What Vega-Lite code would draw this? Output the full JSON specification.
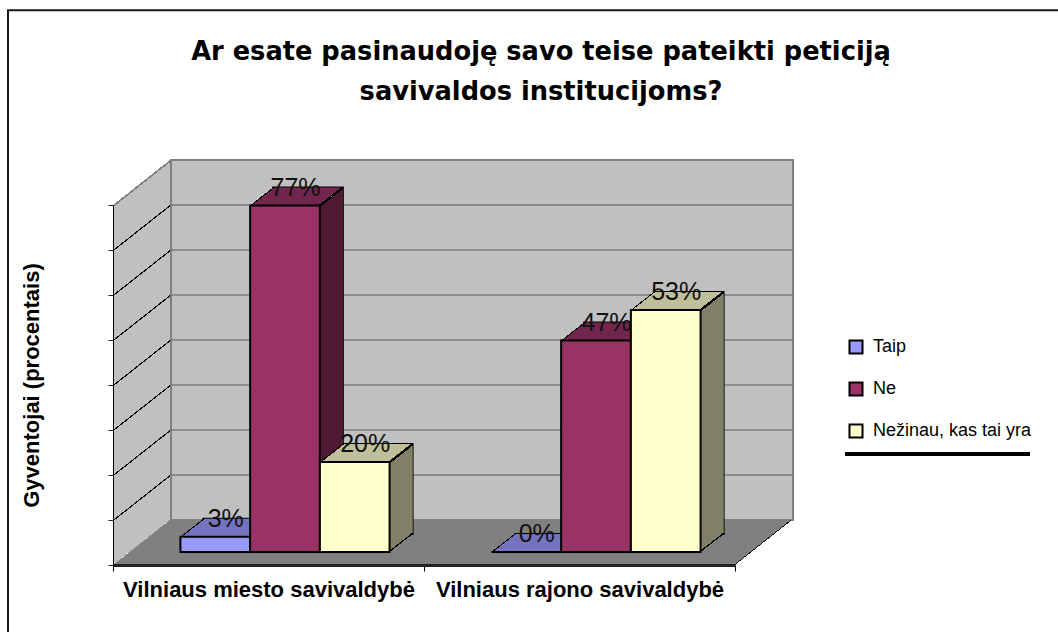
{"$schema":"https://vega.github.io/schema/vega-lite/v6.json","width":622,"height":360,"autosize":{"type":"none"},"padding":{"left":113,"top":205,"right":323,"bottom":67},"background":"white","config":{"view":{"stroke":null},"font":"Liberation Sans"},
"title":{"text":["Ar esate pasinaudoję savo teise pateikti peticiją","savivaldos institucijoms?"],"font":"DejaVu Sans","fontSize":25.7,"fontWeight":"bold","lineHeight":40,"color":"black","anchor":"middle","frame":"group","dx":117,"dy":101},
"datasets":{"answers":[
{"group":"Vilniaus miesto savivaldybė","answer":"Taip","value":3.4,"label":"3%"},
{"group":"Vilniaus miesto savivaldybė","answer":"Ne","value":77,"label":"77%"},
{"group":"Vilniaus miesto savivaldybė","answer":"Nežinau, kas tai yra","value":20,"label":"20%"},
{"group":"Vilniaus rajono savivaldybė","answer":"Taip","value":0,"label":"0%"},
{"group":"Vilniaus rajono savivaldybė","answer":"Ne","value":47,"label":"47%"},
{"group":"Vilniaus rajono savivaldybė","answer":"Nežinau, kas tai yra","value":53.8,"label":"53%"}],
"levels":[{"level":0},{"level":10},{"level":20},{"level":30},{"level":40},{"level":50},{"level":60},{"level":70},{"level":80}],
"frame":[{"part":"frame"}]},
"data":{"name":"answers"},
"layer":[
{"data":{"name":"frame"},"mark":{"type":"bar","width":1300,"xOffset":389.5,"yOffset":0,"y2Offset":100,"fill":"transparent","stroke":"#1a1a1a","strokeWidth":2},"encoding":{"x":{"datum":"Vilniaus miesto savivaldybė","type":"nominal"},"y":{"datum":123.3,"type":"quantitative"},"y2":{"datum":0}}},
{"data":{"name":"frame"},"mark":{"type":"bar","width":680,"xOffset":184.5,"fill":{"gradient":"linear","x1":0,"y1":0,"x2":0.4807,"y2":0.3626,"stops":[{"offset":0,"color":"rgba(192,192,192,0)"},{"offset":0.1111,"color":"rgba(192,192,192,0)"},{"offset":0.1111,"color":"#808080"},{"offset":0.1165,"color":"#808080"},{"offset":0.1165,"color":"#c0c0c0"},{"offset":0.2222,"color":"#c0c0c0"},{"offset":0.2222,"color":"#000"},{"offset":0.2257,"color":"#000"},{"offset":0.2257,"color":"#c0c0c0"},{"offset":0.3333,"color":"#c0c0c0"},{"offset":0.3333,"color":"#000"},{"offset":0.3368,"color":"#000"},{"offset":0.3368,"color":"#c0c0c0"},{"offset":0.4444,"color":"#c0c0c0"},{"offset":0.4444,"color":"#000"},{"offset":0.4479,"color":"#000"},{"offset":0.4479,"color":"#c0c0c0"},{"offset":0.5556,"color":"#c0c0c0"},{"offset":0.5556,"color":"#000"},{"offset":0.5591,"color":"#000"},{"offset":0.5591,"color":"#c0c0c0"},{"offset":0.6667,"color":"#c0c0c0"},{"offset":0.6667,"color":"#000"},{"offset":0.6702,"color":"#000"},{"offset":0.6702,"color":"#c0c0c0"},{"offset":0.7778,"color":"#c0c0c0"},{"offset":0.7778,"color":"#000"},{"offset":0.7813,"color":"#000"},{"offset":0.7813,"color":"#c0c0c0"},{"offset":0.8889,"color":"#c0c0c0"},{"offset":0.8889,"color":"#000"},{"offset":0.8924,"color":"#000"},{"offset":0.8924,"color":"#c0c0c0"},{"offset":1,"color":"#c0c0c0"},{"offset":1,"color":"rgba(192,192,192,0)"}]}},"encoding":{"x":{"datum":"Vilniaus miesto savivaldybė","type":"nominal"},"y":{"datum":90,"type":"quantitative"},"y2":{"datum":0}}},
{"data":{"name":"frame"},"mark":{"type":"bar","width":622,"xOffset":213.5,"yOffset":-45,"y2Offset":-45,"fill":"#c0c0c0","stroke":"#808080","strokeWidth":2},"encoding":{"x":{"datum":"Vilniaus miesto savivaldybė","type":"nominal"},"y":{"datum":80,"type":"quantitative"},"y2":{"datum":0}}},
{"data":{"name":"levels"},"transform":[{"filter":"datum.level>0 && datum.level<80"}],"mark":{"type":"bar","width":622,"xOffset":213.5,"yOffset":-45,"y2Offset":-45,"stroke":"#5a5a5a","strokeWidth":1.2},"encoding":{"x":{"datum":"Vilniaus miesto savivaldybė","type":"nominal"},"y":{"field":"level","type":"quantitative"},"y2":{"field":"level"}}},
{"data":{"name":"frame"},"mark":{"type":"bar","width":680,"xOffset":184.5,"fill":{"gradient":"linear","x1":0,"y1":0,"x2":0.993,"y2":0.0832,"stops":[{"offset":0,"color":"rgba(128,128,128,0)"},{"offset":0.0838,"color":"rgba(128,128,128,0)"},{"offset":0.0838,"color":"#808080"},{"offset":0.9965,"color":"#808080"},{"offset":0.9965,"color":"#111"},{"offset":0.9985,"color":"#111"},{"offset":0.9985,"color":"rgba(255,255,255,0)"},{"offset":1,"color":"rgba(255,255,255,0)"}]}},"encoding":{"x":{"datum":"Vilniaus miesto savivaldybė","type":"nominal"},"y":{"datum":10,"type":"quantitative"},"y2":{"datum":0}}},
{"encoding":{"x":{"field":"group","type":"nominal","title":null,"scale":{"domain":["Vilniaus miesto savivaldybė","Vilniaus rajono savivaldybė"],"paddingInner":0,"paddingOuter":0},"axis":{"zindex":1,"labelAngle":0,"labelAlign":"center","labelBaseline":"top","tickBand":"extent","tickSize":6,"tickColor":"black","tickWidth":1,"domainColor":"#222","domainWidth":3,"labelFont":"Liberation Sans","labelFontSize":22,"labelFontWeight":"bold","labelColor":"black","labelPadding":8,"labelLimit":400}}},
"resolve":{"scale":{"xOffset":"independent"}},
"layer":[
{"mark":{"type":"bar","width":69.7,"stroke":"black","fill":"transparent","strokeWidth":2,"yOffset":-31,"y2Offset":-31},"encoding":{"xOffset":{"field":"answer","type":"nominal","scale":{"domain":["Taip","Ne","Nežinau, kas tai yra"],"paddingInner":0,"paddingOuter":0.73,"range":[39.5,350.5]}},"y":{"field":"value","type":"quantitative"},"y2":{"datum":0}}},
{"transform":[{"filter":"datum.answer=='Taip'"}],"mark":{"type":"bar","width":93,"yOffset":-31,"y2Offset":-13,"fill":{"gradient":"linear","x1":0,"y1":0,"x2":0.9423,"y2":0.233,"stops":[{"offset":0,"color":"rgba(0,0,0,0)"},{"offset":0.2473,"color":"rgba(0,0,0,0)"},{"offset":0.2473,"color":"black"},{"offset":0.265,"color":"black"},{"offset":0.265,"color":"#7373c0"},{"offset":0.98,"color":"#7373c0"},{"offset":0.98,"color":"black"},{"offset":1,"color":"black"},{"offset":1,"color":"rgba(0,0,0,0)"}]}},"encoding":{"xOffset":{"field":"answer","type":"nominal","scale":{"domain":["Taip","Ne","Nežinau, kas tai yra"],"paddingInner":0,"paddingOuter":0.73,"range":[28,339]}},"y":{"field":"value","type":"quantitative"},"y2":{"field":"value"}}},
{"transform":[{"filter":"datum.answer=='Ne'"}],"mark":{"type":"bar","width":93,"yOffset":-31,"y2Offset":-13,"fill":{"gradient":"linear","x1":0,"y1":0,"x2":0.9423,"y2":0.233,"stops":[{"offset":0,"color":"rgba(0,0,0,0)"},{"offset":0.2473,"color":"rgba(0,0,0,0)"},{"offset":0.2473,"color":"black"},{"offset":0.265,"color":"black"},{"offset":0.265,"color":"#73264d"},{"offset":0.98,"color":"#73264d"},{"offset":0.98,"color":"black"},{"offset":1,"color":"black"},{"offset":1,"color":"rgba(0,0,0,0)"}]}},"encoding":{"xOffset":{"field":"answer","type":"nominal","scale":{"domain":["Taip","Ne","Nežinau, kas tai yra"],"paddingInner":0,"paddingOuter":0.73,"range":[28,339]}},"y":{"field":"value","type":"quantitative"},"y2":{"field":"value"}}},
{"transform":[{"filter":"datum.answer=='Ne' && datum.value>70"}],"mark":{"type":"bar","width":23,"yOffset":-31,"y2Offset":-13,"fill":{"gradient":"linear","x1":0,"y1":0,"x2":0.0493,"y2":0.9976,"stops":[{"offset":0,"color":"rgba(0,0,0,0)"},{"offset":0.0494,"color":"rgba(0,0,0,0)"},{"offset":0.0494,"color":"black"},{"offset":0.0535,"color":"black"},{"offset":0.0535,"color":"#4d1933"},{"offset":0.996,"color":"#4d1933"},{"offset":0.996,"color":"black"},{"offset":1,"color":"black"},{"offset":1,"color":"rgba(0,0,0,0)"}]}},"encoding":{"xOffset":{"field":"answer","type":"nominal","scale":{"domain":["Taip","Ne","Nežinau, kas tai yra"],"paddingInner":0,"paddingOuter":0.73,"range":[63,374]}},"y":{"field":"value","type":"quantitative"},"y2":{"datum":0}}},
{"transform":[{"filter":"datum.answer=='Nežinau, kas tai yra' && datum.value<30"}],"mark":{"type":"bar","width":23,"yOffset":-31,"y2Offset":-13,"fill":{"gradient":"linear","x1":0,"y1":0,"x2":0.1622,"y2":0.973,"stops":[{"offset":0,"color":"rgba(0,0,0,0)"},{"offset":0.1667,"color":"rgba(0,0,0,0)"},{"offset":0.1667,"color":"black"},{"offset":0.1806,"color":"black"},{"offset":0.1806,"color":"#808066"},{"offset":0.986,"color":"#808066"},{"offset":0.986,"color":"black"},{"offset":1,"color":"black"},{"offset":1,"color":"rgba(0,0,0,0)"}]}},"encoding":{"xOffset":{"field":"answer","type":"nominal","scale":{"domain":["Taip","Ne","Nežinau, kas tai yra"],"paddingInner":0,"paddingOuter":0.73,"range":[63,374]}},"y":{"field":"value","type":"quantitative"},"y2":{"datum":0}}},
{"transform":[{"filter":"datum.answer=='Nežinau, kas tai yra' && datum.value>30"}],"mark":{"type":"bar","width":23,"yOffset":-31,"y2Offset":-13,"fill":{"gradient":"linear","x1":0,"y1":0,"x2":0.0689,"y2":0.9952,"stops":[{"offset":0,"color":"rgba(0,0,0,0)"},{"offset":0.0692,"color":"rgba(0,0,0,0)"},{"offset":0.0692,"color":"black"},{"offset":0.075,"color":"black"},{"offset":0.075,"color":"#808066"},{"offset":0.994,"color":"#808066"},{"offset":0.994,"color":"black"},{"offset":1,"color":"black"},{"offset":1,"color":"rgba(0,0,0,0)"}]}},"encoding":{"xOffset":{"field":"answer","type":"nominal","scale":{"domain":["Taip","Ne","Nežinau, kas tai yra"],"paddingInner":0,"paddingOuter":0.73,"range":[63,374]}},"y":{"field":"value","type":"quantitative"},"y2":{"datum":0}}},
{"transform":[{"filter":"datum.answer=='Nežinau, kas tai yra'"}],"mark":{"type":"bar","width":93,"yOffset":-31,"y2Offset":-13,"fill":{"gradient":"linear","x1":0,"y1":0,"x2":0.9423,"y2":0.233,"stops":[{"offset":0,"color":"rgba(0,0,0,0)"},{"offset":0.2473,"color":"rgba(0,0,0,0)"},{"offset":0.2473,"color":"black"},{"offset":0.265,"color":"black"},{"offset":0.265,"color":"#bfbf99"},{"offset":0.98,"color":"#bfbf99"},{"offset":0.98,"color":"black"},{"offset":1,"color":"black"},{"offset":1,"color":"rgba(0,0,0,0)"}]}},"encoding":{"xOffset":{"field":"answer","type":"nominal","scale":{"domain":["Taip","Ne","Nežinau, kas tai yra"],"paddingInner":0,"paddingOuter":0.73,"range":[28,339]}},"y":{"field":"value","type":"quantitative"},"y2":{"field":"value"}}},
{"mark":{"type":"bar","width":69.7,"yOffset":-13,"y2Offset":-13,"stroke":"black","strokeWidth":2},"encoding":{"xOffset":{"field":"answer","type":"nominal","scale":{"domain":["Taip","Ne","Nežinau, kas tai yra"],"paddingInner":0,"paddingOuter":0.73,"range":[16.5,327.5]}},"y":{"field":"value","type":"quantitative","title":"Gyventojai (procentais)","scale":{"domain":[0,80]},"axis":{"zindex":1,"values":[0,10,20,30,40,50,60,70,80],"labels":false,"grid":false,"tickSize":5,"tickColor":"#222","domainColor":"black","titleFont":"Liberation Sans","titleFontSize":22,"titleFontWeight":"bold","titleColor":"black","titleX":-70,"titleY":180}},"y2":{"datum":0},"color":{"field":"answer","type":"nominal","sort":["Taip","Ne","Nežinau, kas tai yra"],"scale":{"domain":["Taip","Ne","Nežinau, kas tai yra"],"range":["#9999ff","#993366","#ffffcc"]},"legend":{"title":null,"orient":"none","legendX":734,"legendY":133,"symbolType":"square","symbolSize":170,"symbolStrokeColor":"black","symbolStrokeWidth":2,"labelFont":"Liberation Sans","labelFontSize":18,"labelColor":"black","labelLimit":300,"labelOffset":8,"rowPadding":20}}}},
{"mark":{"type":"text","font":"Liberation Sans","fontSize":25,"color":"#111","baseline":"alphabetic","yOffset":-23},"encoding":{"xOffset":{"field":"answer","type":"nominal","scale":{"type":"band","domain":["Taip","Ne","Nežinau, kas tai yra"],"paddingInner":0,"paddingOuter":0.73,"range":[27,338]}},"y":{"field":"value","type":"quantitative"},"text":{"field":"label"}}}
]},
{"data":{"name":"frame"},"mark":{"type":"bar","width":185,"xOffset":669,"yOffset":-2,"y2Offset":2,"fill":"black"},"encoding":{"x":{"datum":"Vilniaus miesto savivaldybė","type":"nominal"},"y":{"datum":24.67,"type":"quantitative"},"y2":{"datum":24.67}}}
]}
